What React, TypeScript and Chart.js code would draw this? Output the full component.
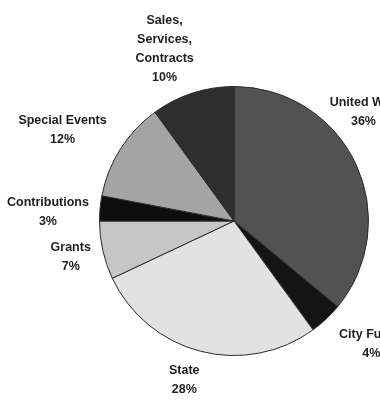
import React, { useEffect, useRef } from "react";
import { Chart, registerables } from "chart.js";

Chart.register(...registerables);

const categories = ["United Way", "City Funds", "State", "Grants", "Contributions", "Special Events", "Sales, Services, Contracts"];
const labelLines = [["United Way", "36%"], ["City Funds", "4%"], ["State", "28%"], ["Grants", "7%"], ["Contributions", "3%"], ["Special Events", "12%"], ["Sales,", "Services,", "Contracts", "10%"]];
const shares = [36, 4, 28, 7, 3, 12, 10];
const colors = ["#525252", "#141414", "#e2e2e2", "#c6c6c6", "#0e0e0e", "#a4a4a4", "#2e2e2e"];
// label placement relative to slice middle: angle shift (deg) and distance (in radii)
const labelShift = [-15, -5, 3, 0, -2.6, -4.4, -4];
const labelDist = [1.26, 1.37, 1.237, 1.244, 1.385, 1.444, 1.378];

const labelPlugin = {
  id: "outsideLabels",
  afterDraw(chart: any) {
    const ctx = chart.ctx;
    const meta = chart.getDatasetMeta(0);
    ctx.save();
    ctx.font = "bold 12.5px 'Liberation Sans', Arial, sans-serif";
    ctx.fillStyle = "#1e1e1e";
    ctx.textAlign = "center";
    ctx.textBaseline = "middle";
    const lineH = 19;
    meta.data.forEach((arc: any, i: number) => {
      const mid = (arc.startAngle + arc.endAngle) / 2 + (labelShift[i] * Math.PI) / 180;
      const d = arc.outerRadius * labelDist[i];
      const cx = arc.x + d * Math.cos(mid);
      const cy = arc.y + d * Math.sin(mid);
      const lines = labelLines[i];
      const top = cy - ((lines.length - 1) * lineH) / 2;
      lines.forEach((t, k) => ctx.fillText(t, cx, top + k * lineH));
    });
    ctx.restore();
  },
};

export default function App() {
  const ref = useRef<HTMLCanvasElement>(null);
  useEffect(() => {
    if (!ref.current) return;
    const chart = new Chart(ref.current, {
      type: "pie",
      data: {
        labels: categories,
        datasets: [
          {
            data: shares,
            backgroundColor: colors,
            borderColor: "#2a2a2a",
            borderWidth: 1,
          },
        ],
      },
      options: {
        animation: false,
        responsive: false,
        layout: { padding: { left: 99, right: 11, top: 86, bottom: 53 } },
        plugins: { legend: { display: false }, tooltip: { enabled: false } },
      },
      plugins: [labelPlugin],
    });
    return () => chart.destroy();
  }, []);
  return (
    <div style={{ position: "absolute", left: 0, top: 0, width: 380, height: 409, background: "#fff", overflow: "hidden" }}>
      <canvas ref={ref} width={380} height={409} style={{ display: "block" }} />
    </div>
  );
}
